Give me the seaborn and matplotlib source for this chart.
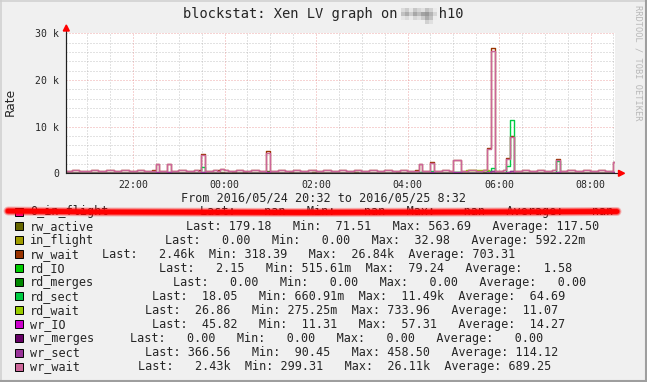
import numpy as np
import pandas as pd
import matplotlib
matplotlib.use("Agg")
import matplotlib.pyplot as plt
import matplotlib.dates as mdates
from matplotlib.patches import Polygon, Rectangle
from matplotlib.lines import Line2D
from matplotlib.ticker import MultipleLocator, FuncFormatter
import seaborn as sns

# ---- data (5 minute steps from 2016/05/24 20:32) ----
start = pd.Timestamp("2016-05-24 20:32")
end = pd.Timestamp("2016-05-25 08:32")

rw_active = [
    95, 88, 102, 120, 90, 85, 110, 130, 96, 88,
    92, 105, 118, 84, 90, 98, 112, 86, 80, 101,
    115, 92, 88, 140, 260, 110, 95, 240, 100, 90,
    85, 96, 120, 88, 92, 110, 380, 140, 96, 88,
    102, 180, 94, 86, 320, 98, 90, 350, 100, 92,
    88, 104, 130, 563.69, 140, 96, 88, 102, 120, 300,
    94, 86, 110, 98, 92, 280, 88, 96, 104, 90,
    86, 98, 112, 94, 88, 100, 330, 92, 86, 108,
    96, 90, 88, 102, 118, 92, 86, 260, 94, 100,
    88, 96, 110, 240, 120, 98, 280, 130, 92, 86,
    100, 120, 310, 300, 110, 94, 88, 102, 96, 90,
    180, 420, 540, 150, 96, 88, 260, 480, 120, 94,
    88, 102, 96, 90, 86, 100, 92, 88, 104, 300,
    110, 94, 88, 96, 102, 90, 86, 98, 92, 88,
    100, 94, 90, 120, 179.18,
]
rw_wait = [
    460, 430, 650, 665, 440, 415, 430, 725, 690, 440,
    430, 655, 650, 420, 440, 665, 630, 430, 420, 650,
    640, 430, 460, 610, 1950, 530, 490, 1950, 510, 440,
    660, 650, 430, 420, 640, 610, 4100, 460, 430, 650,
    610, 950, 650, 440, 430, 660, 620, 430, 440, 650,
    630, 440, 460, 4700, 490, 430, 650, 670, 440, 430,
    660, 640, 420, 440, 690, 650, 430, 420, 630, 660,
    440, 430, 650, 620, 430, 460, 660, 650, 430, 440,
    640, 670, 420, 430, 650, 630, 440, 430, 660, 650,
    430, 440, 610, 1950, 510, 460, 2350, 490, 430, 650,
    630, 510, 2950, 2900, 530, 440, 650, 630, 430, 440,
    660, 5400, 26840, 490, 430, 650, 3250, 8000, 490, 440,
    650, 630, 430, 440, 660, 640, 420, 430, 650, 3000,
    510, 440, 660, 630, 430, 420, 650, 670, 440, 430,
    650, 630, 440, 460, 2460,
]
rd_sect = [
    20, 35, 12, 40, 25, 8, 30, 45, 15, 22,
    18, 38, 10, 28, 42, 14, 20, 33, 9, 26,
    40, 16, 24, 60, 150, 30, 18, 120, 22, 14,
    35, 20, 12, 28, 44, 90, 1300, 60, 25, 18,
    30, 80, 22, 14, 38, 20, 26, 40, 12, 24,
    32, 18, 45, 380, 60, 20, 28, 15, 36, 22,
    14, 30, 40, 18, 25, 12, 34, 20, 28, 16,
    38, 22, 10, 30, 24, 44, 18, 26, 14, 32,
    20, 36, 12, 28, 40, 16, 24, 30, 10, 34,
    22, 18, 40, 200, 60, 30, 420, 80, 20, 26,
    34, 60, 350, 300, 40, 18, 28, 22, 36, 14,
    90, 600, 1200, 80, 30, 24, 1500, 11490, 120, 26,
    18, 32, 20, 28, 14, 36, 22, 30, 60, 2700,
    80, 24, 16, 30, 20, 34, 12, 26, 18, 28,
    22, 30, 16, 40, 18.05,
]
wr_sect = [
    100, 96, 110, 118, 98, 94, 104, 112, 100, 95,
    98, 106, 112, 94, 96, 102, 110, 95, 92, 100,
    108, 98, 96, 120, 180, 104, 98, 175, 100, 96,
    94, 100, 110, 96, 98, 104, 260, 120, 100, 96,
    102, 140, 98, 94, 110, 100, 96, 112, 100, 98,
    96, 102, 110, 300, 120, 100, 96, 104, 110, 98,
    100, 94, 102, 98, 96, 110, 94, 98, 104, 96,
    92, 100, 108, 96, 94, 100, 112, 98, 94, 104,
    100, 96, 94, 102, 110, 96, 92, 108, 98, 100,
    94, 98, 106, 170, 110, 100, 190, 120, 96, 94,
    100, 110, 220, 215, 108, 98, 94, 102, 98, 96,
    130, 320, 458.5, 140, 100, 96, 180, 400, 130, 98,
    94, 102, 98, 96, 92, 100, 96, 94, 104, 210,
    110, 98, 94, 100, 104, 96, 92, 100, 96, 94,
    102, 98, 96, 110, 366.56,
]
wr_wait = [
    450, 420, 640, 660, 430, 410, 420, 720, 680, 430,
    420, 650, 640, 410, 430, 660, 620, 420, 410, 640,
    630, 420, 450, 600, 1900, 520, 480, 1900, 500, 430,
    650, 640, 420, 410, 630, 600, 4000, 450, 420, 640,
    600, 900, 640, 430, 420, 650, 610, 420, 430, 640,
    620, 430, 450, 4400, 480, 420, 640, 660, 430, 420,
    650, 630, 410, 430, 680, 640, 420, 410, 620, 650,
    430, 420, 640, 610, 420, 450, 650, 640, 420, 430,
    630, 660, 410, 420, 640, 620, 430, 420, 650, 640,
    420, 430, 600, 1900, 500, 450, 2300, 480, 420, 640,
    620, 500, 2900, 2850, 520, 430, 640, 620, 420, 430,
    650, 5200, 26110, 480, 420, 640, 3100, 7800, 480, 430,
    640, 620, 420, 430, 650, 630, 410, 420, 640, 2900,
    500, 430, 650, 620, 420, 410, 640, 660, 430, 420,
    640, 620, 430, 450, 2430,
]

# quiet series, read every 30 minutes
in_flight = [0, 0, 1, 0, 0, 0, 2, 0, 0, 0, 0, 0, 0, 0, 0, 1, 0, 0, 0, 32.98, 0, 0, 0, 0, 0]
rd_IO = [1.2, 0.9, 1.5, 1.1, 2.0, 0.8, 1.3, 1.0, 0.9, 1.4, 1.2, 0.7, 1.1, 0.9, 1.6, 1.0,
         1.2, 0.8, 1.5, 79.24, 1.3, 1.0, 0.9, 1.8, 2.15]
rd_merges = [0] * 25
rd_wait = [8, 6, 10, 7, 12, 5, 9, 6, 8, 11, 7, 5, 9, 6, 10, 7, 8, 6, 733.96, 12, 9, 7, 10, 8, 26.86]
wr_IO = [13, 12, 14, 13, 15, 12, 14, 13, 12, 14, 13, 12, 14, 13, 15, 12, 14, 13, 15, 57.31,
         14, 13, 12, 14, 45.82]
wr_merges = [0] * 25

names = ["0_in_flight", "rw_active", "in_flight", "rw_wait", "rd_IO", "rd_merges",
         "rd_sect", "rd_wait", "wr_IO", "wr_merges", "wr_sect", "wr_wait"]
colors = ["#FF0099", "#666600", "#A09C00", "#993300", "#00CC00", "#008800",
          "#00CC44", "#99CC00", "#CC00CC", "#660066", "#993399", "#CC6699"]
last = [np.nan, 179.18, 0, 2460, 2.15, 0, 18.05, 26.86, 45.82, 0, 366.56, 2430]
mins = [np.nan, 71.51, 0, 318.39, 0.51561, 0, 0.66091, 0.27525, 11.31, 0, 90.45, 299.31]
maxs = [np.nan, 563.69, 32.98, 26840, 79.24, 0, 11490, 733.96, 57.31, 0, 458.50, 26110]
avgs = [np.nan, 117.50, 0.59222, 703.31, 1.58, 0, 64.69, 11.07, 14.27, 0, 114.12, 689.25]
stat_x = [200, 186, 165, 102.5, 159, 172.7, 151.6, 144.6, 151.6, 130.2, 144.6, 137.6]

fine_t = start + pd.to_timedelta(np.arange(145) * 5, unit="min")
coarse_t = start + pd.to_timedelta(np.arange(25) * 30, unit="min")
series = {
    "rw_active": (fine_t, rw_active), "in_flight": (coarse_t, in_flight),
    "rw_wait": (fine_t, rw_wait), "rd_IO": (coarse_t, rd_IO),
    "rd_merges": (coarse_t, rd_merges), "rd_sect": (fine_t, rd_sect),
    "rd_wait": (coarse_t, rd_wait), "wr_IO": (coarse_t, wr_IO),
    "wr_merges": (coarse_t, wr_merges), "wr_sect": (fine_t, wr_sect),
    "wr_wait": (fine_t, wr_wait),
}
df = pd.concat([pd.DataFrame({"time": t, "value": v, "series": k}) for k, (t, v) in series.items()],
               ignore_index=True)

# ---- layout helpers (pixel -> figure fraction) ----
W, H = 647, 382


def fx(x):
    return x / W


def fy(y):
    return 1 - y / H


def si(v):
    if np.isnan(v):
        return "   nan "
    if abs(v) >= 1000:
        return f"{v / 1000:6.2f}k"
    if v != 0 and abs(v) < 1:
        return f"{v * 1000:6.2f}m"
    return f"{v:6.2f} "


def fline(xs, ys, **kw):
    fig.add_artist(Line2D([fx(v) for v in xs], [fy(v) for v in ys], transform=fig.transFigure, **kw))


sns.set_style("white")
mono = "DejaVu Sans Mono"
plt.rcParams["font.family"] = ["DejaVu Sans"]

fig = plt.figure(figsize=(W / 100, H / 100), dpi=100, facecolor="#F0F0F0")

# 3d frame
fline([0, 647], [0.75, 0.75], color="#CFCFCF", lw=1.1)
fline([0.75, 0.75], [0, 382], color="#CFCFCF", lw=1.1)
fline([0, 647], [381, 381], color="#9E9E9E", lw=1.5)
fline([646, 646], [0, 382], color="#9E9E9E", lw=1.5)

ax = fig.add_axes([fx(66), fy(173.3), 549 / W, 140 / H])
ax.set_facecolor("white")

sns.lineplot(data=df, x="time", y="value", hue="series", hue_order=names[1:],
             palette=colors[1:], estimator=None, errorbar=None, legend=False,
             linewidth=1.0, drawstyle="steps-mid", ax=ax)

ax.set_xlim(start, end)
ax.set_ylim(0, 30000)
ax.xaxis.set_major_locator(mdates.HourLocator(byhour=range(0, 24, 2)))
ax.xaxis.set_minor_locator(mdates.MinuteLocator(byminute=[0, 30]))
ax.xaxis.set_major_formatter(mdates.DateFormatter("%H:%M"))
ax.yaxis.set_major_locator(MultipleLocator(10000))
ax.yaxis.set_minor_locator(MultipleLocator(2000))
ax.yaxis.set_major_formatter(FuncFormatter(lambda v, p: "0" if v == 0 else f"{v / 1000:.0f} k"))
ax.set_axisbelow(True)
ax.grid(which="minor", color="#8F8F8F", alpha=0.5, lw=0.72, linestyle=(0, (1, 2)))
ax.grid(which="major", color="#DE5050", alpha=0.5, lw=0.72, linestyle=(0, (1, 2)))
ax.tick_params(which="major", length=2, width=0.7, color="#202020", labelsize=7.1, pad=3)
ax.tick_params(axis="x", which="major", pad=2.5)
ax.tick_params(which="minor", length=1.4, width=0.7, color="#202020")
for lab in ax.get_xticklabels() + ax.get_yticklabels():
    lab.set_family(mono)
ax.set_xlabel("")
ax.set_ylabel("")
for s in ["top", "right"]:
    ax.spines[s].set_visible(False)
for s in ["left", "bottom"]:
    ax.spines[s].set_color("#202020")
    ax.spines[s].set_linewidth(0.8)

# axis extensions and red arrows
fline([66, 66], [173, 29], color="#202020", lw=0.8)
fline([615, 619], [173.3, 173.3], color="#202020", lw=0.8)
fig.add_artist(Polygon([(fx(66.3), fy(25)), (fx(63.3), fy(31)), (fx(69.3), fy(31))],
                       closed=True, transform=fig.transFigure, color="red", zorder=5))
fig.add_artist(Polygon([(fx(624.5), fy(173.3)), (fx(618.5), fy(170.3)), (fx(618.5), fy(176.3))],
                       closed=True, transform=fig.transFigure, color="red", zorder=5))

# title, with the pixelated host name
fig.text(fx(323), fy(14), "blockstat: Xen LV graph on     h10", family=mono, fontsize=9.9,
         ha="center", va="center")
host_blur = [
    [0.86, 0.80, 0.90, 0.78, 0.84, 0.88, 0.76, 0.82, 0.92],
    [0.76, 0.68, 0.80, 0.66, 0.74, 0.64, 0.60, 0.70, 0.84],
    [0.90, 0.86, 0.92, 0.84, 0.88, 0.80, 0.68, 0.76, 0.93],
    [0.94, 0.94, 0.94, 0.94, 0.94, 0.94, 0.82, 0.88, 0.94],
]
for r, row in enumerate(host_blur):
    for c, g in enumerate(row):
        fig.add_artist(Rectangle((fx(401 + 4 * c), fy(12 + 4 * r)), 4 / W, 4 / H,
                                 transform=fig.transFigure, color=str(g), lw=0))

fig.text(fx(10), fy(102), "Rate", rotation=90, fontsize=8.8, ha="center", va="center")
fig.text(fx(638), fy(5), "RRDTOOL / TOBI OETIKER", rotation=270, family=mono, fontsize=6.2,
         color="#B8B8B8", ha="center", va="top")
fig.text(fx(323.5), fy(198), "From 2016/05/24 20:32 to 2016/05/25 8:32", family=mono,
         fontsize=8.5, ha="center", va="center")

# legend rows
for i, (name, col) in enumerate(zip(names, colors)):
    yc = 212 + 14.05 * i
    fig.add_artist(Rectangle((fx(15), fy(yc + 4)), 8 / W, 8 / H, transform=fig.transFigure,
                             facecolor=col, edgecolor="black", lw=0.7))
    fig.text(fx(30), fy(yc), name, family=mono, fontsize=8.5, ha="left", va="center")
    stats = f"Last: {si(last[i])}  Min: {si(mins[i])}  Max: {si(maxs[i])}  Average: {si(avgs[i])}"
    fig.text(fx(stat_x[i]), fy(yc), stats, family=mono, fontsize=8.5, ha="left", va="center")

# red scribble over the first legend row
for lw, a in [(6.5, 0.25), (5, 0.5), (3.5, 1.0)]:
    fline([8, 100, 300, 500, 617], [211, 212, 212.5, 212, 211.5], color="red", lw=lw, alpha=a,
          solid_capstyle="round", zorder=10)

fig.savefig("out.png", dpi=100, facecolor=fig.get_facecolor())
